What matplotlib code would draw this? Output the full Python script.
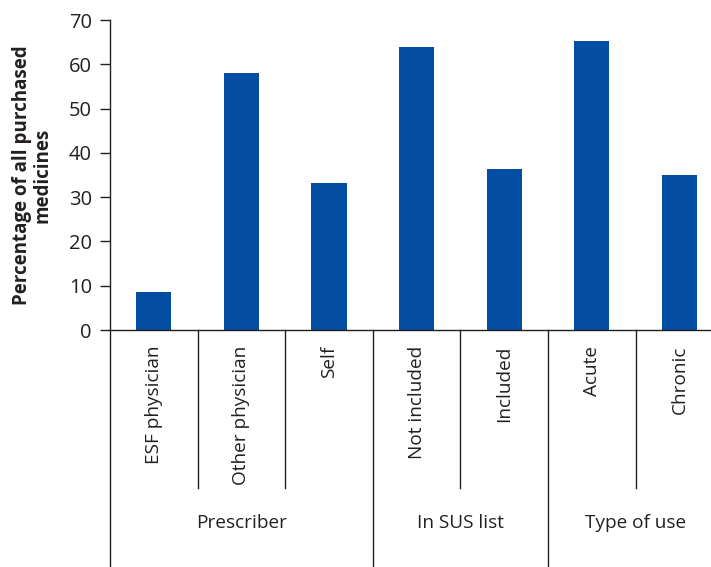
import matplotlib
matplotlib.use("Agg")
import matplotlib.pyplot as plt
from matplotlib.transforms import blended_transform_factory
from matplotlib.lines import Line2D

# Data
categories = ["ESF physician", "Other physician", "Self",
              "Not included", "Included", "Acute", "Chronic"]
values = [8.6, 58.1, 33.3, 63.8, 36.4, 65.2, 34.9]
groups = ["Prescriber", "In SUS list", "Type of use"]
group_sizes = [3, 2, 2]
yticks = [0, 10, 20, 30, 40, 50, 60, 70]

BAR = "#034ea2"
INK = "#231f20"
FONT = ["Open Sans", "DejaVu Sans"]
plt.rcParams["font.family"] = FONT
FS = 13.7

W, H = 711, 567
fig = plt.figure(figsize=(W / 100, H / 100), dpi=100)

# axes geometry in pixels
x0, y_zero, y_top = 110, 330, 20
slot = 87.6
ax = fig.add_axes([x0 / W, (H - y_zero) / H,
                   slot * len(categories) / W, (y_zero - y_top) / H])

xs = list(range(len(categories)))
ax.bar(xs, values, width=0.4, color=BAR, zorder=2)

ax.set_xlim(-0.5, len(categories) - 0.5)
ax.set_ylim(0, 70)
ax.set_yticks(yticks)
ax.set_yticklabels([str(t) for t in yticks], fontsize=14.5, color=INK)
ax.set_xticks([])
ax.tick_params(axis="y", length=7, width=1, color=INK, pad=6)
for s in ("top", "right"):
    ax.spines[s].set_visible(False)
for s in ("left", "bottom"):
    ax.spines[s].set_color(INK)
    ax.spines[s].set_linewidth(1)

ax.set_ylabel("Percentage of all purchased\nmedicines", fontsize=13.5,
              fontweight="bold", color=INK, labelpad=12, linespacing=1.0)

trans = blended_transform_factory(ax.transData, ax.transAxes)
ax_h = y_zero - y_top
short_end = -(488 - y_zero) / ax_h
long_end = -(600 - y_zero) / ax_h

# category labels
for x, c in zip(xs, categories):
    ax.text(x, -(346 - y_zero) / ax_h, c, transform=trans, rotation=90,
            ha="center", va="top", fontsize=FS, color=INK)

# dividers between categories and groups
group_starts = [0]
for g in group_sizes[:-1]:
    group_starts.append(group_starts[-1] + g)
boundaries = [i - 0.5 for i in range(len(categories) + 1)]
for b in boundaries:
    is_group = any(abs(b - (gs - 0.5)) < 1e-9 for gs in group_starts) or \
        abs(b - (len(categories) - 0.5)) < 1e-9
    end = long_end if is_group else short_end
    ax.add_line(Line2D([b, b], [0, end], transform=trans, color=INK,
                       lw=1, clip_on=False))

# group labels
for gs, size, name in zip(group_starts, group_sizes, groups):
    center = gs + (size - 1) / 2
    ax.text(center, -(523 - y_zero) / ax_h, name, transform=trans,
            ha="center", va="center", fontsize=FS, color=INK)

fig.savefig("out.png", dpi=100)
